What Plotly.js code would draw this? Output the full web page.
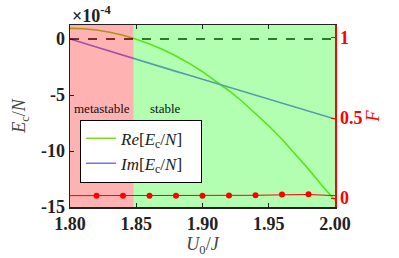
<!DOCTYPE html>
<html>
<head>
<meta charset="utf-8">
<script src="https://cdn.plot.ly/plotly-3.0.1.min.js"></script>
<style>html,body{margin:0;padding:0;background:#fff;}#chart{width:399px;height:258px;}</style>
</head>
<body>
<div id="chart"></div>
<script>
// U0/J grid
var u0 = [1.80,1.81,1.82,1.83,1.84,1.85,1.86,1.87,1.88,1.89,1.90,1.91,1.92,1.93,1.94,1.95,1.96,1.97,1.98,1.99,2.00];
// Re[Ec/N] in units of 1e-4
var reEc = [0.95,0.91,0.80,0.60,0.33,-0.02,-0.44,-0.94,-1.52,-2.18,-2.92,-3.73,-4.62,-5.58,-6.63,-7.75,-8.95,-10.25,-11.62,-13.05,-14.4];
// Im[Ec/N] in units of 1e-4
var imEc = [0,-0.37,-0.73,-1.09,-1.45,-1.82,-2.17,-2.53,-2.89,-3.24,-3.60,-3.95,-4.30,-4.65,-5.0,-5.35,-5.70,-6.05,-6.42,-6.78,-7.14];
// Fidelity F
var fLineX = [1.80,1.82,1.84,1.86,1.88,1.90,1.92,1.94,1.96,1.98,2.00];
var fLineY = [0.015,0.015,0.015,0.015,0.015,0.016,0.016,0.017,0.020,0.022,0.015];
var fDotX = [1.82,1.84,1.86,1.88,1.90,1.92,1.94,1.96,1.98];
var fDotY = [0.015,0.015,0.015,0.015,0.015,0.016,0.017,0.022,0.024];
// regions: metastable then stable
var regionEdges = [1.80, 1.848, 2.00];
var regionNames = ['metastable','stable'];
var refLineY = [0, 0];
var yRange = [-15, 1.25];
var y2Range = [-0.056, 1.081];

var serif = '"Liberation Serif", serif';

function rect(i, color){
  var a = regionEdges[i], b = regionEdges[i+1];
  return {x:[a,b,b,a,a], y:[yRange[0],yRange[0],yRange[1],yRange[1],yRange[0]],
    mode:'none', fill:'toself', fillcolor:color, showlegend:false, hoverinfo:'skip', type:'scatter', xaxis:'x', yaxis:'y'};
}

var traces = [
  {x:u0, y:reEc, type:'scatter', mode:'lines', name:'<i>Re</i>[<i>E</i><sub>c</sub>/<i>N</i>]&nbsp;&nbsp;&nbsp;', line:{color:'#84d81e', width:1.6}},
  {x:u0, y:imEc, type:'scatter', mode:'lines', name:'<i>Im</i>[<i>E</i><sub>c</sub>/<i>N</i>]&nbsp;&nbsp;&nbsp;', line:{color:'#7a72f4', width:1.6}},
  {x:[regionEdges[0], regionEdges[2]], y:refLineY, type:'scatter', mode:'lines', showlegend:false, line:{color:'#000', width:1.6, dash:'dash'}},
  rect(0, 'rgba(255,0,0,0.3)'),
  rect(1, 'rgba(0,255,0,0.3)'),
  {x:fLineX, y:fLineY, type:'scatter', mode:'lines', yaxis:'y2', showlegend:false, line:{color:'#ff0000', width:1}},
  {x:fDotX, y:fDotY, type:'scatter', mode:'markers', yaxis:'y2', showlegend:false, marker:{color:'#ff0000', size:6}}
];

var layout = {
  width:399, height:258,
  margin:{l:70, r:64, t:25, b:51},
  paper_bgcolor:'#fff', plot_bgcolor:'#fff',
  font:{family:serif, color:'#222'},
  showlegend:true,
  legend:{x:0.038, y:0.48, xanchor:'left', yanchor:'top', bgcolor:'#fff', bordercolor:'#000', borderwidth:1,
    font:{family:serif, size:17, color:'#222'}, tracegroupgap:0},
  xaxis:{range:[1.80,2.00], tickvals:[1.80,1.85,1.90,1.95,2.00], ticktext:['<b>1.80</b>','<b>1.85</b>','<b>1.90</b>','<b>1.95</b>','<b>2.00</b>'],
    showgrid:false, zeroline:false, showline:true, mirror:'ticks', linecolor:'#222', linewidth:1.5,
    ticks:'inside', ticklen:4, tickcolor:'#222',
    tickfont:{family:serif, size:18, color:'#222'},
    title:{text:'<i>U</i><sub>0</sub>/<i>J</i>', font:{family:serif, size:18, color:'#444'}, standoff:2}},
  yaxis:{range:yRange, tickvals:[0,-5,-10,-15], ticktext:['<b>0</b>','<b>-5</b>','<b>-10</b>','<b>-15</b>'],
    showgrid:false, zeroline:false, showline:true, linecolor:'#222', linewidth:1.5,
    ticks:'inside', ticklen:4, tickcolor:'#222',
    tickfont:{family:serif, size:18, color:'#222'},
    title:{text:'<i>E</i><sub>c</sub>/<i>N</i>', font:{family:serif, size:18, color:'#444'}, standoff:10}},
  yaxis2:{range:y2Range, overlaying:'y', side:'right', tickvals:[0,0.5,1], ticktext:['<b>0</b>','<b>0.5</b>','<b>1</b>'],
    showgrid:false, zeroline:false, showline:true, linecolor:'#ff0000', linewidth:1.5,
    ticks:'inside', ticklen:4, tickcolor:'#ff0000',
    tickfont:{family:serif, size:18, color:'#ff0000'},
    title:{text:'<i>F</i>', font:{family:serif, size:18, color:'#ff0000'}, standoff:4}},
  annotations:[
    {xref:'paper', yref:'paper', x:0, y:1, xanchor:'left', yanchor:'bottom', xshift:0, yshift:-3, showarrow:false,
     text:'<b>×10<sup>-4</sup></b>', font:{family:serif, size:18, color:'#222'}},
    {xref:'x', yref:'y', x:(regionEdges[0]+regionEdges[1])/2, y:-6.2, showarrow:false, text:regionNames[0],
     font:{family:serif, size:13, color:'#111'}},
    {xref:'x', yref:'y', x:1.872, y:-6.2, showarrow:false, text:regionNames[1],
     font:{family:serif, size:13, color:'#111'}}
  ]
};

Plotly.newPlot('chart', traces, layout, {displayModeBar:false, staticPlot:true});
</script>
</body>
</html>
